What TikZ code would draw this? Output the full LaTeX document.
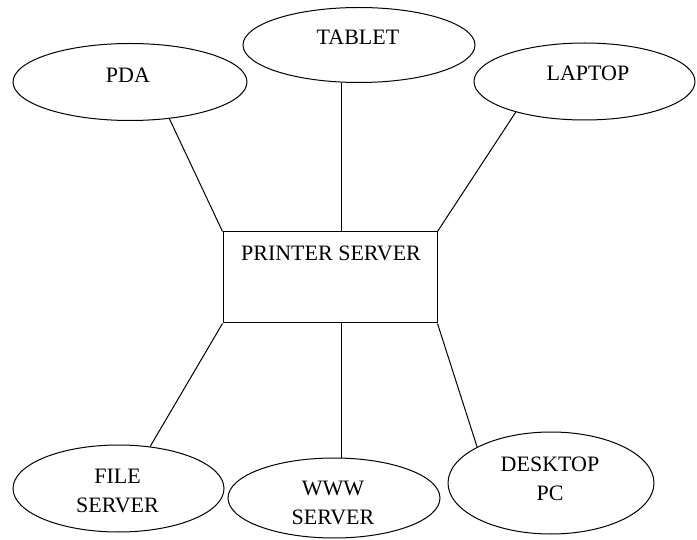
\documentclass[tikz,border=0pt]{standalone}
\usepackage{fontspec}
\setmainfont{Liberation Serif}
\usepackage{tikz}
\usetikzlibrary{shapes.geometric}

\begin{document}
\begin{tikzpicture}[
  x=1pt, y=-1pt,
  line width=1pt,
  every node/.style={align=center},
  device/.style={draw, ellipse, inner sep=0pt},
  tag/.style={font=\fontsize{22}{29}\selectfont, inner sep=0pt}
]
\useasboundingbox (0,0) rectangle (697,540);
% server in the middle
\node[draw, minimum width=214pt, minimum height=91pt,
  label={[tag, xshift=1pt, yshift=24.5pt]center:PRINTER SERVER}] (ps) at (330,277.5) {};
% clients on top
\node[device, minimum width=234pt, minimum height=77pt,
  label={[tag, xshift=-2pt, yshift=7pt]center:PDA}] (pda) at (130,82) {};
\node[device, minimum width=232pt, minimum height=75pt,
  label={[tag, xshift=-1pt, yshift=8pt]center:TABLET}] (tablet) at (359,45) {};
\node[device, minimum width=221pt, minimum height=77pt,
  label={[tag, xshift=3.5pt, yshift=8.5pt]center:LAPTOP}] (laptop) at (584.5,81.5) {};
% servers and pc below
\node[device, minimum width=211pt, minimum height=87pt,
  label={[tag, xshift=-1pt, yshift=-2.5pt]center:FILE\\SERVER}] (filesrv) at (118.5,488.5) {};
\node[device, minimum width=212pt, minimum height=80pt,
  label={[tag, xshift=-1pt, yshift=-5pt]center:WWW\\SERVER}] (www) at (334,498) {};
\node[device, minimum width=206pt, minimum height=102pt,
  label={[tag, xshift=-1pt, yshift=4pt]center:DESKTOP\\PC}] (desktop) at (551,483) {};
% links to the printer server
\foreach \a/\b in {pda.-43/ps.north west, laptop.-156/ps.north east,
                   filesrv.53/ps.south west, desktop.154/ps.south east}
  \draw (\a) -- (\b);
\draw (tablet.-115) -- (tablet.-115 |- ps.north);
\draw (www.79) -- (www.79 |- ps.south);
\end{tikzpicture}
\end{document}
